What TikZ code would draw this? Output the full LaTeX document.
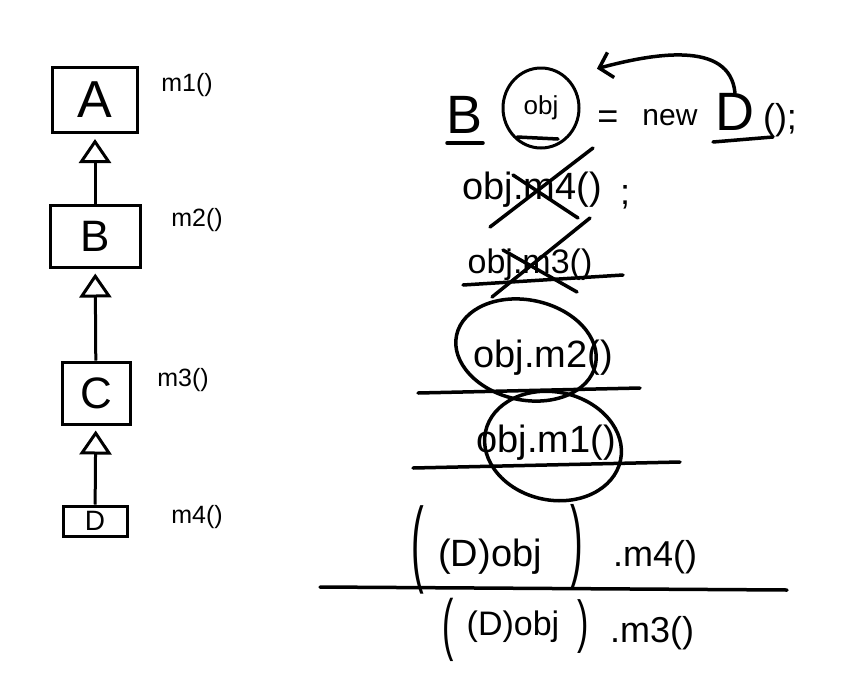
\documentclass[tikz,border=0pt]{standalone}
\usepackage{graphicx}
\usepackage{fontspec}
\setmainfont{Liberation Sans}
\usetikzlibrary{arrows.meta,shapes.geometric}

\begin{document}
\begin{tikzpicture}[x=1pt, y=-1pt,
  cls/.style={rectangle, draw, line width=3pt, inner sep=0pt, font=\fontsize{44}{44}\selectfont},
  meth/.style={inner sep=0pt, font=\fontsize{25}{25}\selectfont},
  code/.style={inner sep=0pt, font=\fontsize{36}{36}\selectfont},
  bigp/.style={inner sep=0pt, font=\fontsize{38}{38}\selectfont},
  pen/.style={line width=3.5pt, line cap=round},
  inh/.style={line width=3pt, shorten >=5pt, -{Triangle[open, length=24pt, width=32pt]}},
  >={Straight Barb[length=12pt, width=26pt]}
]
  \useasboundingbox (0,0) rectangle (852,681);

  % class hierarchy
  \node[cls, minimum width=85pt, minimum height=65pt, font=\fontsize{52}{52}\selectfont] (a) at (95,100) {A};
  \node[cls, minimum width=90pt, minimum height=62pt] (b) at (95,236) {B};
  \node[cls, minimum width=68pt, minimum height=62pt] (c) at (96,393) {C};
  \node[cls, minimum width=64pt, minimum height=30pt, font=\fontsize{28}{28}\selectfont] (d) at (95,521) {D};

  \node[meth] (ma) at (187,85) {m1()};
  \node[meth] (mb) at (197,220) {m2()};
  \node[meth] (mc) at (183,380) {m3()};
  \node[meth] (md) at (197,517) {m4()};

  \draw[inh] (b) -- (a);
  \draw[inh] (c) -- (b);
  \draw[inh] (d) -- (c);

  % declaration
  \node[code, font=\fontsize{54}{54}\selectfont] (tb) at (465,115) {B};
  \node[code, ellipse, draw, line width=3pt, minimum width=76pt, minimum height=80pt,
        font=\fontsize{26}{26}\selectfont] (tobj) at (541,108) {obj};
  \node[code] (teq) at (608,120) {=};
  \node[code, font=\fontsize{30}{30}\selectfont] (tnew) at (670,118) {new};
  \node[code, font=\fontsize{54}{54}\selectfont] (td) at (735,112) {D};
  \node[code] (tcall) at (780,120) {();};
  \draw[pen] (447,143) -- (483,143);
  \draw[pen] (517,137) -- (558,139);
  \draw[pen] (713,142) -- (773,137);
  \draw[pen, ->] (td.north) to[out=95, in=15] ([xshift=28pt, yshift=10pt]tobj.north east);

  % calls
  \node[code, font=\fontsize{38}{38}\selectfont] (l2) at (532,190) {obj.m4()};
  \node[code] (semi) at (625,197) {;};
  \draw[pen] (490,227) -- (593,148);
  \draw[pen] (513,175) -- (578,218);

  \node[code, font=\fontsize{34}{34}\selectfont] (l3) at (530,265) {obj.m3()};
  \draw[pen] (463,285) -- (623,275);
  \draw[pen] (492,297) -- (590,218);
  \draw[pen] (503,250) -- (577,292);

  \node[code, font=\fontsize{38}{38}\selectfont] (l4) at (543,358) {obj.m2()};
  \draw[pen] (526,350) ellipse [x radius=71, y radius=50, rotate=-12];
  \draw[pen] (418,393) -- (640,388);

  \node[code, font=\fontsize{38}{38}\selectfont] (l5) at (546,443) {obj.m1()};
  \draw[pen] (553,446) ellipse [x radius=69, y radius=54, rotate=-12];
  \draw[pen] (413,468) -- (680,462);

  % casts
  \node[bigp] (p1l) at (418,550) {\scalebox{1}[2.5]{(}};
  \node[code, font=\fontsize{38}{38}\selectfont] (c1) at (490,557) {(D)obj};
  \node[bigp] (p1r) at (577,547) {\scalebox{1}[2.4]{)}};
  \node[code] (k1) at (655,557) {.m4()};
  \draw[pen] (320,587) -- (787,590);

  \node[bigp, font=\fontsize{34}{34}\selectfont] (p2l) at (448,630) {\scalebox{1}[2.0]{(}};
  \node[code, font=\fontsize{34}{34}\selectfont] (c2) at (513,627) {(D)obj};
  \node[bigp, font=\fontsize{34}{34}\selectfont] (p2r) at (583,627) {\scalebox{1}[1.7]{)}};
  \node[code] (k2) at (652,633) {.m3()};
\end{tikzpicture}
\end{document}
